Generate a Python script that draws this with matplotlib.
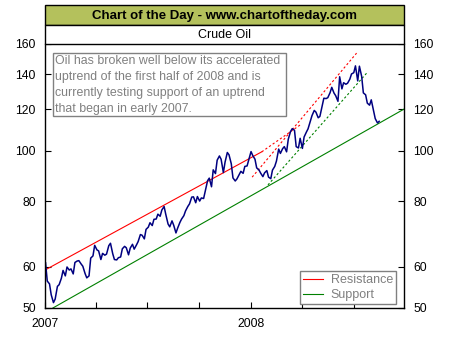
import numpy as np
import pandas as pd
import matplotlib
matplotlib.use("Agg")
import matplotlib.pyplot as plt
import matplotlib.dates as mdates
from matplotlib.patches import Rectangle
from matplotlib.ticker import FixedLocator, FixedFormatter, NullLocator

plt.rcParams['font.family'] = ['Liberation Sans', 'DejaVu Sans']

# crude oil closes, sampled Tuesday / Friday
tue = pd.date_range("2007-01-02", "2008-08-12", freq="W-TUE")
fri = pd.date_range("2007-01-05", "2008-08-15", freq="W-FRI")
price_pairs = [
    (61.0, 56.3), (55.6, 53.0), (51.2, 52.0), (55.0, 55.4), (57.0, 59.0),
    (57.6, 59.9), (59.1, 59.4), (58.1, 61.1), (61.5, 61.6), (60.7, 60.1),
    (58.2, 57.1), (57.6, 62.3), (62.9, 65.9), (64.6, 64.3), (61.9, 63.6),
    (63.1, 63.4), (65.8, 66.5), (63.5, 61.9), (61.8, 62.4), (62.6, 64.9),
    (65.6, 65.2), (63.2, 65.1), (66.2, 64.8), (66.0, 67.0), (69.1, 68.9),
    (67.8, 70.7), (71.4, 72.8), (71.9, 73.9), (74.0, 75.6), (74.9, 77.0),
    (78.2, 75.5), (72.4, 71.5), (73.4, 72.0), (69.6, 71.1), (72.9, 74.0),
    (75.1, 76.7), (78.2, 79.1), (81.5, 81.6), (79.5, 81.7), (80.1, 81.2),
    (81.0, 83.7), (87.6, 88.6), (85.3, 91.9), (90.4, 95.9), (97.7, 96.3),
    (90.8, 95.1), (99.2, 98.2), (94.4, 88.7), (87.5, 88.3), (90.0, 91.3),
    (90.5, 93.3), (93.5, 96.0), (99.6, 97.9), (96.3, 92.7), (91.9, 90.6),
    (89.2, 90.7), (91.6, 89.0), (88.4, 91.8), (93.3, 95.5), (100.7, 98.8),
    (100.9, 101.8), (99.5, 105.2), (108.8, 110.2), (109.4, 101.8), (101.2, 105.6),
    (101.0, 106.2), (108.5, 110.1), (113.8, 116.7), (119.4, 118.5), (115.6, 116.3),
    (121.8, 126.0), (125.8, 126.3), (129.1, 132.2), (128.9, 127.4), (124.3, 138.5),
    (131.3, 134.9), (134.0, 134.6), (137.0, 140.2), (141.0, 145.3), (136.0, 145.1),
    (138.7, 129.0), (127.9, 123.3), (122.2, 125.1), (119.2, 115.2), (113.0, 113.8),
]
dates = [d for pair in zip(tue, fri) for d in pair]
prices = [p for pair in price_pairs for p in pair]

# trend lines: (start date, start value, end date, end value)
resistance = ["2007-01-01", 59.1, "2008-01-20", 99.5]
resistance_ext = ["2008-01-20", 99.5, "2008-03-28", 112.0]
support = ["2007-01-15", 50.0, "2008-09-28", 120.1]
accel_top = ["2008-01-03", 89.0, "2008-07-06", 153.7]
accel_bottom = ["2008-01-31", 86.0, "2008-07-24", 140.8]

yticks = [50, 60, 80, 100, 120, 140, 160]

W, H = 454, 340
fig = plt.figure(figsize=(W / 100, H / 100), dpi=100)
ax = fig.add_axes([45 / W, 1 - 308 / H, 359 / W, 264 / H])

def seg(s):
    return [pd.Timestamp(s[0]), pd.Timestamp(s[2])], [s[1], s[3]]

x, y = seg(resistance)
ax.plot(x, y, color="#ff0000", lw=0.8, label="Resistance")
x, y = seg(resistance_ext)
ax.plot(x, y, color="#ff0000", lw=0.8, ls=(0, (2, 2)))
x, y = seg(support)
ax.plot(x, y, color="#008000", lw=0.8, label="Support")
x, y = seg(accel_top)
ax.plot(x, y, color="#ff0000", lw=0.8, ls=(0, (2, 2)))
x, y = seg(accel_bottom)
ax.plot(x, y, color="#008000", lw=0.8, ls=(0, (2, 2)))

ax.plot(dates, prices, color="#000080", lw=1.1)

ax.set_yscale("log")
ax.set_ylim(50, 160)
ax.yaxis.set_major_locator(FixedLocator(yticks))
ax.yaxis.set_major_formatter(FixedFormatter([str(v) for v in yticks]))
ax.yaxis.set_minor_locator(NullLocator())

ax.set_xlim(pd.Timestamp("2007-01-01"), pd.Timestamp("2008-09-28"))
ax.xaxis.set_major_locator(mdates.YearLocator())
ax.xaxis.set_major_formatter(mdates.DateFormatter("%Y"))
ax.xaxis.set_minor_locator(mdates.MonthLocator(bymonth=[4, 7, 10]))

ax.tick_params(which="both", direction="in", length=4, width=0.8,
               labelsize=8.7, right=True, labelright=True, top=False, pad=6.5)
ax.tick_params(axis="x", pad=7.5)
for s in ax.spines.values():
    s.set_linewidth(1)
ax.spines["top"].set_visible(False)

leg = ax.legend(loc="lower right", bbox_to_anchor=(0.978, 0.015), borderaxespad=0,
                fancybox=False, framealpha=1, edgecolor="#808080", fontsize=9,
                handlelength=1.6, handletextpad=0.6, borderpad=0.25, labelspacing=0.2)
leg.get_frame().set_linewidth(1)
for t in leg.get_texts():
    t.set_color("#808080")

# header rows
fig.add_artist(Rectangle((45 / W, 1 - 25 / H), 359 / W, 20 / H, transform=fig.transFigure,
                         facecolor="#b4c15c", edgecolor="black", lw=1))
fig.add_artist(Rectangle((45 / W, 1 - 44 / H), 359 / W, 19 / H, transform=fig.transFigure,
                         facecolor="white", edgecolor="black", lw=1))
fig.text(224.5 / W, 1 - 15.5 / H, "Chart of the Day - www.chartoftheday.com",
         ha="center", va="center", fontsize=9.5, fontweight="bold")
fig.text(224.5 / W, 1 - 34.5 / H, "Crude Oil", ha="center", va="center", fontsize=9)

# comment box
fig.add_artist(Rectangle((53 / W, 1 - 116 / H), 233 / W, 63 / H, transform=fig.transFigure,
                         facecolor="white", edgecolor="#808080", lw=1))
fig.text(55 / W, 1 - 55.5 / H,
         "Oil has broken well below its accelerated\n"
         "uptrend of the first half of 2008 and is\n"
         "currently testing support of an uptrend\n"
         "that began in early 2007.",
         ha="left", va="top", fontsize=8.9, color="#808080", linespacing=1.43)

fig.savefig("out.png", dpi=100)
